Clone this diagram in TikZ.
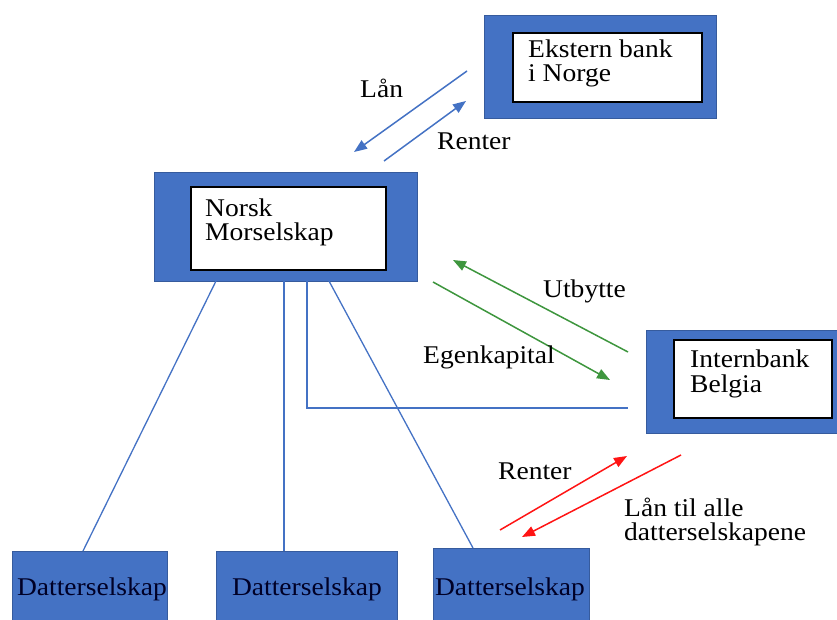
\documentclass[tikz,border=0pt]{standalone}
\usepackage{fontspec}
\setmainfont{Liberation Serif}[FakeStretch=1.08]
\usetikzlibrary{arrows.meta}
\definecolor{boxblue}{RGB}{68,114,196}
\definecolor{flowgreen}{RGB}{62,150,62}
\definecolor{flowred}{RGB}{255,20,20}
\begin{document}
\begin{tikzpicture}[x=1pt,y=-1pt,
  every node/.style={font=\rmfamily\fontsize{25.5}{23.5}\selectfont},
  outerbox/.style={draw=boxblue!80!black,line width=0.6pt,fill=boxblue,anchor=north west,inner sep=0pt},
  innerbox/.style={draw=black,line width=1.8pt,fill=white,anchor=north west,inner sep=0pt},
  boxtext/.style={anchor=base west,inner sep=0pt,align=left},
  link/.style={draw=boxblue,line width=1.3pt},
  flow/.style={line width=1.5pt,-{Triangle[length=13pt,width=10pt]}},
  lbl/.style={anchor=base west,inner sep=0pt}]
\useasboundingbox (0,0) rectangle (837,620);

% External bank
\node[outerbox,minimum width=232pt,minimum height=103pt] (ext) at (484,15) {};
\node[innerbox,minimum width=189pt,minimum height=69pt] (extin) at (512,32) {};
\node[boxtext] (extt1) at (528,58) {Ekstern bank};
\node[boxtext] (extt2) at (528,82) {i Norge};

% Parent company
\node[outerbox,minimum width=263pt,minimum height=109pt] (mor) at (154,172) {};
\node[innerbox,minimum width=195pt,minimum height=83pt] (morin) at (190,186) {};
\node[boxtext] (mort1) at (205,216.5) {Norsk};
\node[boxtext] (mort2) at (205,240.5) {Morselskap};

% Internal bank
\node[outerbox,minimum width=192pt,minimum height=103pt] (ib) at (646,330) {};
\node[innerbox,minimum width=158pt,minimum height=78pt] (ibin) at (673,339) {};
\node[boxtext] (ibt1) at (690,367) {Internbank};
\node[boxtext] (ibt2) at (690,392) {Belgia};

% Subsidiaries
\node[outerbox,minimum width=155pt,minimum height=75pt] (d1) at (12,551) {};
\node[outerbox,minimum width=181pt,minimum height=75pt] (d2) at (216,551) {};
\node[outerbox,minimum width=156pt,minimum height=78pt] (d3) at (433,548) {};
\node[anchor=base,inner sep=0pt,text=black!85!blue] (d1t) at (92,595) {Datterselskap};
\node[anchor=base,inner sep=0pt,text=black!85!blue] (d2t) at (307,595) {Datterselskap};
\node[anchor=base,inner sep=0pt,text=black!85!blue] (d3t) at (510,595) {Datterselskap};

% Ownership lines
\coordinate (m1) at (216,281);
\coordinate (m2) at (284,281);
\coordinate (m3) at (307,281);
\coordinate (m4) at (329,281);
\coordinate (d1top) at (83,551);
\coordinate (d3top) at (473,548);
\coordinate (ibl) at (628,408);
\draw[link] (m1) -- (d1top);
\draw[link] (m2) -- (m2 |- d2.north);
\draw[link] (m4) -- (d3top);
\draw[link] (m3) -- (m3 |- ibl) -- (ibl);

% Loan flows with the external bank
\coordinate (la) at (467,71);  \coordinate (lb) at (354,152);
\coordinate (ra) at (384,161); \coordinate (rb) at (466,101);
\draw[flow,draw=boxblue,fill=boxblue] (la) -- (lb);
\draw[flow,draw=boxblue,fill=boxblue] (ra) -- (rb);
\node[lbl] (lan) at (360,98) {Lån};
\node[lbl] (ren1) at (437,150) {Renter};

% Equity flows with the internal bank
\coordinate (ua) at (628,352); \coordinate (ub) at (453,260);
\coordinate (ea) at (433,282); \coordinate (eb) at (610,380);
\draw[flow,draw=flowgreen,fill=flowgreen] (ua) -- (ub);
\draw[flow,draw=flowgreen,fill=flowgreen] (ea) -- (eb);
\node[lbl] (utb) at (543,297) {Utbytte};
\node[lbl] (egk) at (423,363) {Egenkapital};

% Loan flows with the subsidiaries
\coordinate (sa) at (500,530); \coordinate (sb) at (627,456);
\coordinate (ta) at (681,455); \coordinate (tb) at (522,537);
\draw[flow,draw=flowred,fill=flowred] (sa) -- (sb);
\draw[flow,draw=flowred,fill=flowred] (ta) -- (tb);
\node[lbl] (ren2) at (498,479) {Renter};
\node[lbl] (lta1) at (624,516) {Lån til alle};
\node[lbl] (lta2) at (624,540) {datterselskapene};
\end{tikzpicture}
\end{document}
